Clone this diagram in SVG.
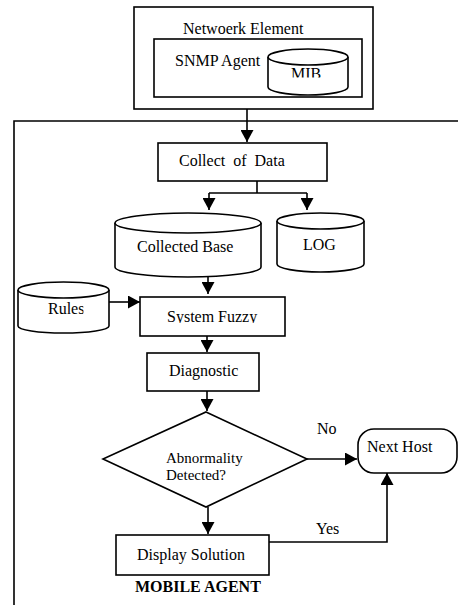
<svg xmlns="http://www.w3.org/2000/svg" width="458" height="605" viewBox="0 0 458 605" font-family="'Liberation Serif', 'Times New Roman', serif" font-size="16">
<defs>
<style>
.s{fill:#fff;stroke:#000;stroke-width:1.6}
.n{fill:none;stroke:#000;stroke-width:1.6}
.c{fill:none;stroke:#000;stroke-width:1.6;marker-end:url(#ah)}
text{font-family:'Liberation Serif','Times New Roman',serif;font-size:16px;fill:#000}
.b{font-weight:bold}
.sm{font-size:15px}
</style>
<marker id="ah" markerUnits="userSpaceOnUse" markerWidth="13" markerHeight="13" refX="12" refY="6.5" orient="auto">
<path d="M0,0 L12,6.5 L0,13 z" fill="#000"/>
</marker>
<clipPath id="clipMIB"><rect x="260" y="40" width="100" height="37.5"/></clipPath>
<clipPath id="clipSF"><rect x="140" y="297" width="145" height="26"/></clipPath>
<clipPath id="clipRules"><rect x="18" y="282" width="65.5" height="51"/></clipPath>
</defs>
<rect width="458" height="605" fill="#fff"/>

<g id="frame">
<path class="n" d="M14,605 L14,121 L458,121"/>
<text class="b" x="135" y="592">MOBILE AGENT</text>
</g>

<g id="network-element">
<rect class="s" x="134" y="7" width="239" height="102"/>
<text x="183" y="34">Netwoerk Element</text>
</g>

<g id="snmp-agent">
<rect class="s" x="154" y="39" width="208" height="58"/>
<text x="175" y="66">SNMP Agent</text>
</g>

<g id="mib">
<path class="s" d="M268,57 L268,87 A40,8 0 0 0 348,87 L348,57"/>
<ellipse class="s" cx="308" cy="57" rx="40" ry="8"/>
<text x="291" y="79" clip-path="url(#clipMIB)">MIB</text>
</g>

<g id="collect-data">
<rect class="s" x="158" y="143" width="169" height="38"/>
<text x="179" y="166" xml:space="preserve">Collect  of  Data</text>
</g>

<g id="collected-base">
<path class="s" d="M115,223 L115,267 A73,10 0 0 0 261,267 L261,223"/>
<ellipse class="s" cx="188" cy="223" rx="73" ry="10"/>
<text x="137" y="252">Collected Base</text>
</g>

<g id="log">
<path class="s" d="M277,221 L277,264 A43.5,8 0 0 0 364,264 L364,221"/>
<ellipse class="s" cx="320.5" cy="221" rx="43.5" ry="8"/>
<text x="303" y="250">LOG</text>
</g>

<g id="rules">
<path class="s" d="M18,290 L18,326 A45.5,7 0 0 0 109,326 L109,290"/>
<ellipse class="s" cx="63.5" cy="290" rx="45.5" ry="8"/>
<text x="48" y="314" clip-path="url(#clipRules)">Rules</text>
</g>

<g id="system-fuzzy">
<rect class="s" x="140" y="297" width="145" height="39"/>
<text x="167" y="322" clip-path="url(#clipSF)">System Fuzzy</text>
</g>

<g id="diagnostic">
<rect class="s" x="147" y="353" width="112" height="38"/>
<text x="169" y="376">Diagnostic</text>
</g>

<g id="abnormality">
<polygon class="s" points="206,412 307,459 206,507 103,459"/>
<text class="sm" x="166" y="463">Abnormality</text>
<text class="sm" x="166" y="480">Detected?</text>
</g>

<g id="next-host">
<rect class="s" x="358" y="429" width="99" height="44" rx="16" ry="16"/>
<text x="367" y="452">Next Host</text>
</g>

<g id="display-solution">
<rect class="s" x="116" y="535" width="153" height="40"/>
<text x="137" y="560">Display Solution</text>
</g>

<g id="connectors">
<path class="c" d="M247,109 L247,142"/>
<path class="n" d="M257,181 L257,193 M209,193 L307,193"/>
<path class="c" d="M209,193 L209,210"/>
<path class="c" d="M307,193 L307,210"/>
<path class="c" d="M208,277 L208,294"/>
<path class="c" d="M109,302 L140,302"/>
<path class="c" d="M207,336 L207,352"/>
<path class="c" d="M207,391 L207,411"/>
<path class="c" d="M307,459 L357,459"/>
<path class="c" d="M208,507 L208,534"/>
<path class="c" d="M269,542 L387,542 L387,473"/>
<text x="317" y="434">No</text>
<text x="316" y="534">Yes</text>
</g>
</svg>
